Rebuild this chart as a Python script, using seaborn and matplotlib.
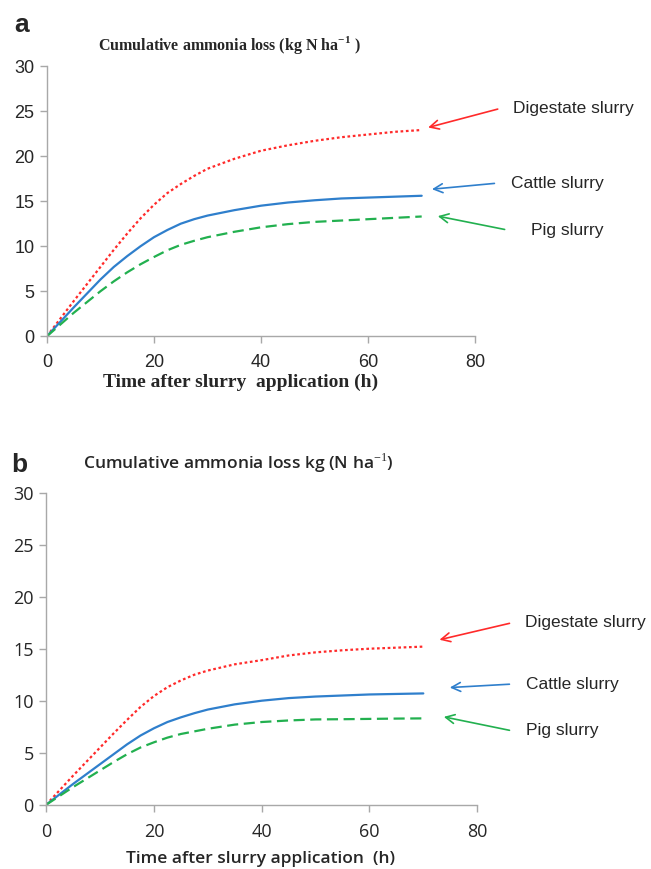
import numpy as np
import pandas as pd
import matplotlib
matplotlib.use("Agg")
import matplotlib.pyplot as plt
import seaborn as sns

# Data
hours = [0, 5, 10, 12.5, 15, 17.5, 20, 22.5, 25, 27.5, 30, 35, 40, 45, 50, 55, 60, 65, 70]

# panel a
digestate_a = [0, 3.9, 7.7, 9.6, 11.4, 13.1, 14.6, 15.9, 16.9, 17.8, 18.6, 19.7, 20.6, 21.2, 21.7, 22.1, 22.4, 22.7, 22.9]
cattle_a = [0, 3.2, 6.3, 7.7, 8.9, 10.0, 11.0, 11.8, 12.5, 13.0, 13.4, 14.0, 14.5, 14.85, 15.1, 15.3, 15.4, 15.5, 15.6]
pig_a = [0, 2.6, 5.0, 6.1, 7.1, 8.0, 8.8, 9.55, 10.15, 10.6, 11.0, 11.6, 12.1, 12.45, 12.7, 12.85, 13.0, 13.15, 13.3]

# panel b
digestate_b = [0, 2.8, 5.5, 6.85, 8.15, 9.4, 10.45, 11.3, 11.95, 12.5, 12.9, 13.5, 13.9, 14.35, 14.65, 14.85, 15.0, 15.1, 15.2]
cattle_b = [0, 2.0, 3.9, 4.85, 5.8, 6.65, 7.35, 7.95, 8.4, 8.8, 9.15, 9.65, 10.0, 10.25, 10.4, 10.5, 10.6, 10.65, 10.7]
pig_b = [0, 1.7, 3.3, 4.1, 4.85, 5.5, 6.0, 6.45, 6.8, 7.05, 7.3, 7.7, 7.95, 8.1, 8.2, 8.22, 8.25, 8.28, 8.3]

series = ["Digestate slurry", "Cattle slurry", "Pig slurry"]
colors = {"Digestate slurry": "#ff2a2a", "Cattle slurry": "#2f7fcc", "Pig slurry": "#22b04f"}
dashes = {"Digestate slurry": (1.2, 1.2), "Cattle slurry": "", "Pig slurry": (5, 2.5)}

# label arrow tail, arrow head, text x (data coords)
arrows_a = {"Digestate slurry": ((84.7, 25.3), (70.7, 23.1), 87.0),
            "Cattle slurry": ((84.1, 17.0), (71.4, 16.3), 86.6),
            "Pig slurry": ((86.0, 11.8), (72.5, 13.4), 90.5)}
arrows_b = {"Digestate slurry": ((86.5, 17.5), (72.5, 15.8), 88.8),
            "Cattle slurry": ((86.5, 11.6), (74.4, 11.25), 89.0),
            "Pig slurry": ((86.5, 7.1), (73.3, 8.5), 89.0)}


def long_form(d, c, p):
    return pd.DataFrame({
        "hours": hours * 3,
        "loss": d + c + p,
        "slurry": [s for s in series for _ in hours],
    })


sns.set_style("white")
plt.rcParams["font.family"] = ["Liberation Sans", "DejaVu Sans"]
plt.rcParams["mathtext.fontset"] = "custom"
plt.rcParams["mathtext.rm"] = "Liberation Serif"
plt.rcParams["mathtext.bf"] = "Liberation Serif:bold"

fig = plt.figure(figsize=(6.51, 8.69), dpi=100)
ax_a = fig.add_axes([0.072, 0.613, 0.658, 0.311])
ax_b = fig.add_axes([0.071, 0.074, 0.662, 0.359])


def draw(ax, df, arrows, tick_font):
    sns.lineplot(data=df, x="hours", y="loss", hue="slurry", style="slurry",
                 palette=colors, dashes=dashes, linewidth=1.6, ax=ax, legend=False)
    ax.set_xlim(0, 80)
    ax.set_ylim(0, 30)
    ax.set_xticks([0, 20, 40, 60, 80])
    ax.set_yticks(range(0, 31, 5))
    ax.set_xlabel("")
    ax.set_ylabel("")
    for s in ["top", "right"]:
        ax.spines[s].set_visible(False)
    for s in ["left", "bottom"]:
        ax.spines[s].set_color("#a8a8a8")
        ax.spines[s].set_linewidth(1.0)
    ax.tick_params(axis="both", direction="out", length=5, width=1, color="#a8a8a8",
                   labelsize=13, pad=4, left=True, bottom=True)
    for lab in ax.get_xticklabels() + ax.get_yticklabels():
        lab.set_fontfamily(tick_font)
    ax.tick_params(axis="x", pad=8)
    for name, (tail, head, tx) in arrows.items():
        ax.annotate("", xy=head, xytext=tail,
                    arrowprops=dict(arrowstyle="->", color=colors[name], lw=1.2,
                                    mutation_scale=16),
                    annotation_clip=False)
        ax.text(tx, tail[1], name, fontsize=12.5, ha="left", va="center", clip_on=False)


draw(ax_a, long_form(digestate_a, cattle_a, pig_a), arrows_a, "Liberation Sans")
draw(ax_b, long_form(digestate_b, cattle_b, pig_b), arrows_b, "Open Sans")

# panel letters and titles
fig.text(0.022, 0.971, "a", fontsize=19, fontweight="bold", va="center")
fig.text(0.018, 0.465, "b", fontsize=19, fontweight="bold", va="center")

fig.text(0.353, 0.948, r"Cumulative ammonia loss (kg N ha$^{\mathbf{-1}}$ )",
         fontsize=11.5, fontweight="bold", family="Liberation Serif", ha="center", va="center")
fig.text(0.366, 0.467, r"Cumulative ammonia loss kg (N ha$^{\mathrm{-1}}$)",
         fontsize=12.5, fontweight="semibold", family="Open Sans", ha="center", va="center")

fig.text(0.370, 0.560, "Time after slurry  application (h)",
         fontsize=14, fontweight="bold", family="Liberation Serif", ha="center", va="center")
fig.text(0.400, 0.012, "Time after slurry application  (h)",
         fontsize=12.5, fontweight="semibold", family="Open Sans", ha="center", va="center")

fig.savefig("out.png", dpi=100)
